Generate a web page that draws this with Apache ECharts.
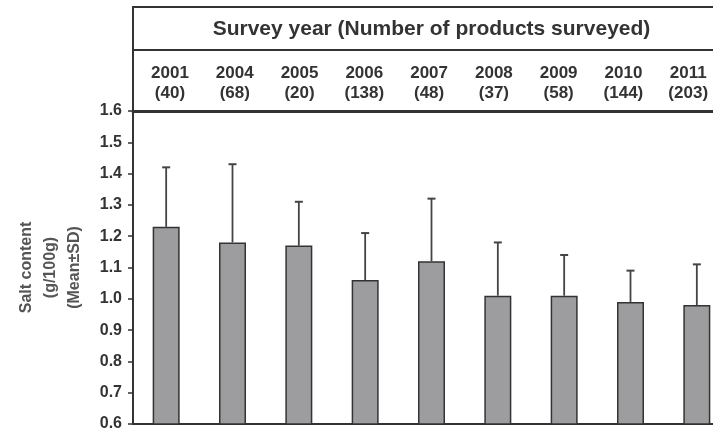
<!DOCTYPE html>
<html>
<head>
<meta charset="utf-8">
<script src="https://cdn.jsdelivr.net/npm/echarts@6/dist/echarts.min.js"></script>
<style>
  html, body { margin: 0; padding: 0; background: #fff; }
  #chart { width: 713px; height: 429px; }
</style>
</head>
<body>
<div id="chart"></div>
<script>
// Salt content by survey year (mean ± SD)
const years = ['2001', '2004', '2005', '2006', '2007', '2008', '2009', '2010', '2011'];
const productCounts = [40, 68, 20, 138, 48, 37, 58, 144, 203];
const meanSalt = [1.23, 1.18, 1.17, 1.06, 1.12, 1.01, 1.01, 0.99, 0.98];
const sdSalt = [0.19, 0.25, 0.14, 0.15, 0.20, 0.17, 0.13, 0.10, 0.13];
const yTicks = { min: 0.6, max: 1.6, step: 0.1 };

const FONT = 'Liberation Sans';
const INK = '#333';

// plot area layout (the last column runs past the right edge)
const G = { left: 133, top: 111, width: 597, height: 313 };
// header row of year labels is set slightly tighter than the bars
const H = { left: 137.6, width: 583 };
const HEADER_TOP = 7;
const HEADER_SPLIT = 50;

const chart = echarts.init(document.getElementById('chart'), null, { renderer: 'canvas' });

const categoryLabels = years.map((y, i) => y + '\n(' + productCounts[i] + ')');

chart.setOption({
  animation: false,
  backgroundColor: '#fff',
  grid: [
    {
      left: G.left, top: G.top, width: G.width, height: G.height,
      containLabel: false, outerBoundsMode: 'none'
    },
    {
      left: H.left, top: G.top, width: H.width, height: G.height,
      containLabel: false, outerBoundsMode: 'none'
    }
  ],
  graphic: [
    {
      type: 'rect',
      shape: { x: G.left, y: HEADER_TOP, width: G.width, height: G.top - HEADER_TOP },
      style: { fill: 'none', stroke: INK, lineWidth: 2 },
      z: 5
    },
    {
      type: 'line',
      shape: { x1: G.left, y1: HEADER_SPLIT, x2: G.left + G.width, y2: HEADER_SPLIT },
      style: { stroke: INK, lineWidth: 2 },
      z: 5
    },
    {
      type: 'text',
      x: G.left + G.width / 2,
      y: (HEADER_TOP + HEADER_SPLIT) / 2 + 1,
      style: {
        text: 'Survey year (Number of products surveyed)',
        font: 'bold 21px "' + FONT + '"',
        fill: INK,
        align: 'center',
        verticalAlign: 'middle'
      },
      z: 6
    }
  ],
  xAxis: [
    {
      type: 'category',
      gridIndex: 0,
      data: years,
      position: 'top',
      axisLine: { show: true, lineStyle: { color: INK, width: 3 } },
      axisTick: { show: false },
      axisLabel: { show: false }
    },
    {
      type: 'category',
      gridIndex: 0,
      data: years,
      position: 'bottom',
      axisLine: { show: true, lineStyle: { color: INK, width: 2 } },
      axisTick: { show: false },
      axisLabel: { show: false }
    },
    {
      type: 'category',
      gridIndex: 1,
      data: categoryLabels,
      position: 'top',
      axisLine: { show: false },
      axisTick: { show: false },
      axisLabel: {
        interval: 0,
        margin: 8,
        fontFamily: FONT,
        fontWeight: 'bold',
        fontSize: 17,
        lineHeight: 20,
        color: INK
      }
    }
  ],
  yAxis: [
    {
      type: 'value',
      gridIndex: 0,
      min: yTicks.min,
      max: yTicks.max,
      interval: yTicks.step,
      name: 'Salt content\n(g/100g)\n(Mean±SD)',
      nameLocation: 'middle',
      nameRotate: 90,
      nameGap: 46,
      nameTextStyle: {
        fontFamily: FONT,
        fontWeight: 'bold',
        fontSize: 16,
        lineHeight: 24,
        color: '#555'
      },
      axisLine: { show: true, lineStyle: { color: INK, width: 2 } },
      axisTick: { show: true, length: 5, lineStyle: { color: INK, width: 1.5 } },
      splitLine: { show: false },
      axisLabel: {
        margin: 11,
        fontFamily: FONT,
        fontWeight: 'bold',
        fontSize: 16,
        color: INK,
        formatter: v => v.toFixed(1)
      }
    },
    {
      type: 'value',
      gridIndex: 1,
      min: yTicks.min,
      max: yTicks.max,
      show: false
    }
  ],
  series: [
    {
      type: 'bar',
      xAxisIndex: 0,
      yAxisIndex: 0,
      data: meanSalt,
      barWidth: 27,
      itemStyle: { color: '#9d9da0', borderColor: INK, borderWidth: 1.5 },
      z: 2
    },
    {
      // upper SD whiskers
      type: 'custom',
      xAxisIndex: 0,
      yAxisIndex: 0,
      data: meanSalt.map((m, i) => [i, m, m + sdSalt[i]]),
      renderItem: (params, api) => {
        const lo = api.coord([api.value(0), api.value(1)]);
        const hi = api.coord([api.value(0), api.value(2)]);
        const cap = 4;
        return {
          type: 'group',
          children: [
            { type: 'line', shape: { x1: lo[0], y1: lo[1], x2: hi[0], y2: hi[1] },
              style: { stroke: '#444', lineWidth: 1.8 } },
            { type: 'line', shape: { x1: hi[0] - cap, y1: hi[1], x2: hi[0] + cap, y2: hi[1] },
              style: { stroke: '#444', lineWidth: 2 } }
          ]
        };
      },
      z: 3
    }
  ]
});
</script>
</body>
</html>
